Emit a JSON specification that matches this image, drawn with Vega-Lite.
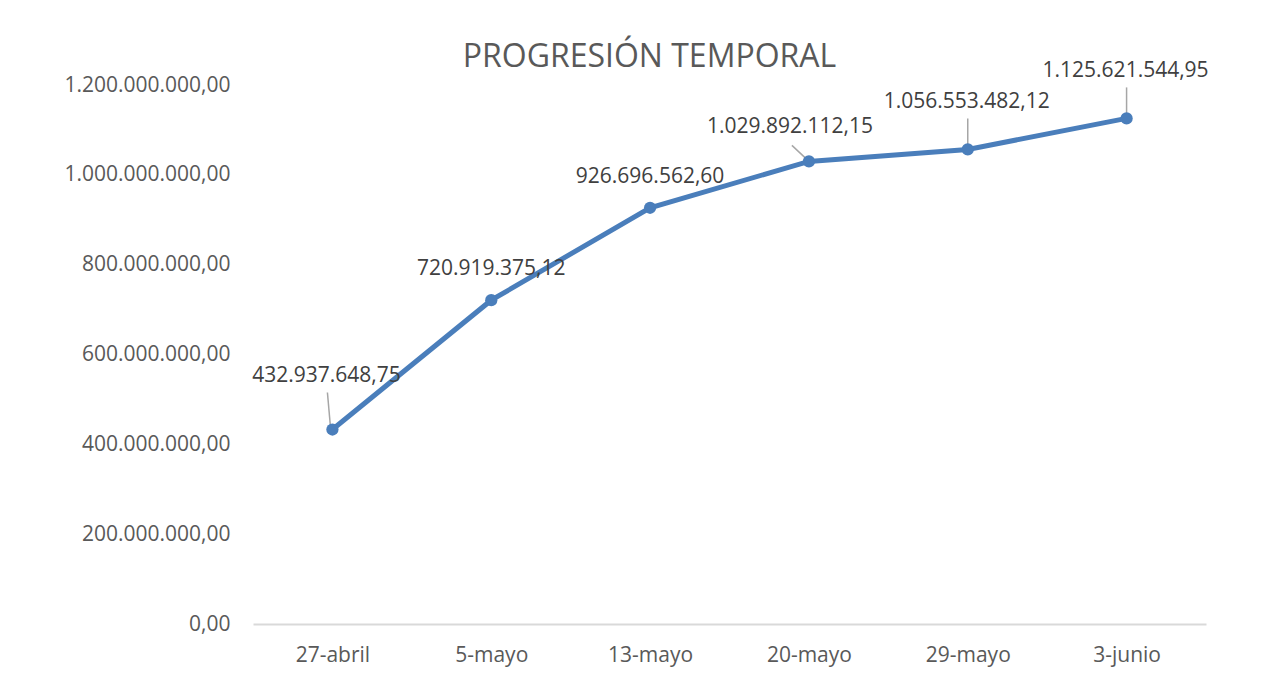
{
  "$schema": "https://vega.github.io/schema/vega-lite/v6.json",
  "width": 953,
  "height": 539,
  "autosize": {"type": "none"},
  "padding": {"left": 253, "top": 85, "right": 69, "bottom": 55},
  "background": "white",
  "title": {
    "text": "PROGRESIÓN TEMPORAL",
    "font": "Open Sans",
    "fontSize": 32,
    "fontWeight": "normal",
    "color": "#595959",
    "anchor": "middle",
    "frame": "group",
    "baseline": "alphabetic",
    "offset": -39,
    "dx": -80
  },
  "data": {
    "values": [
      {"fecha": "27-abril", "valor": 432937648.75},
      {"fecha": "5-mayo", "valor": 720919375.12},
      {"fecha": "13-mayo", "valor": 926696562.60},
      {"fecha": "20-mayo", "valor": 1029892112.15},
      {"fecha": "29-mayo", "valor": 1056553482.12},
      {"fecha": "3-junio", "valor": 1125621544.95}
    ]
  },
  "encoding": {
    "x": {
      "field": "fecha",
      "type": "nominal",
      "sort": ["27-abril", "5-mayo", "13-mayo", "20-mayo", "29-mayo", "3-junio"],
      "scale": {"type": "point", "padding": 0.5},
      "axis": {
        "title": null,
        "labelAngle": 0,
        "ticks": false,
        "domainColor": "#d9d9d9",
        "domainWidth": 2,
        "labelPadding": 20,
        "labelFont": "Open Sans",
        "labelFontSize": 21,
        "labelColor": "#595959",
        "grid": false
      }
    },
    "y": {
      "field": "valor",
      "type": "quantitative",
      "scale": {"domain": [0, 1200000000], "nice": false, "zero": true},
      "axis": {
        "title": null,
        "values": [0, 200000000, 400000000, 600000000, 800000000, 1000000000, 1200000000],
        "format": ",.2f",
        "domain": false,
        "ticks": false,
        "grid": false,
        "labelPadding": 23,
        "labelFont": "Open Sans",
        "labelFontSize": 21,
        "labelColor": "#595959"
      }
    }
  },
  "layer": [
    {"mark": {"type": "line", "color": "#4a7ebb", "strokeWidth": 5}},
    {
      "transform": [{"filter": "datum.fecha === '27-abril'"}],
      "mark": {"type": "rule", "color": "#a6a6a6", "strokeWidth": 1.5, "xOffset": -5, "yOffset": -37, "x2Offset": -2, "y2Offset": -3},
      "encoding": {"x2": {"field": "fecha"}, "y2": {"field": "valor"}}
    },
    {
      "transform": [{"filter": "datum.fecha === '20-mayo'"}],
      "mark": {"type": "rule", "color": "#a6a6a6", "strokeWidth": 1.5, "xOffset": -17, "yOffset": -16, "x2Offset": -1, "y2Offset": -1},
      "encoding": {"x2": {"field": "fecha"}, "y2": {"field": "valor"}}
    },
    {
      "transform": [{"filter": "datum.fecha === '29-mayo' || datum.fecha === '3-junio'"}],
      "mark": {"type": "rule", "color": "#a6a6a6", "strokeWidth": 1.5, "yOffset": -31, "y2Offset": -1},
      "encoding": {"y2": {"field": "valor"}}
    },
    {"mark": {"type": "point", "filled": true, "size": 150, "color": "#4a7ebb", "opacity": 1}},
    {
      "transform": [{"filter": "datum.fecha === '5-mayo' || datum.fecha === '13-mayo'"}],
      "mark": {"type": "text", "font": "Open Sans", "fontSize": 21, "color": "#404040", "baseline": "middle", "align": "center", "dy": -31},
      "encoding": {"text": {"field": "valor", "type": "quantitative", "format": ",.2f"}}
    },
    {
      "transform": [{"filter": "datum.fecha === '27-abril'"}],
      "mark": {"type": "text", "font": "Open Sans", "fontSize": 21, "color": "#404040", "baseline": "middle", "align": "center", "dx": -6, "dy": -54},
      "encoding": {"text": {"field": "valor", "type": "quantitative", "format": ",.2f"}}
    },
    {
      "transform": [{"filter": "datum.fecha === '20-mayo'"}],
      "mark": {"type": "text", "font": "Open Sans", "fontSize": 21, "color": "#404040", "baseline": "middle", "align": "center", "dx": -19, "dy": -34},
      "encoding": {"text": {"field": "valor", "type": "quantitative", "format": ",.2f"}}
    },
    {
      "transform": [{"filter": "datum.fecha === '29-mayo' || datum.fecha === '3-junio'"}],
      "mark": {"type": "text", "font": "Open Sans", "fontSize": 21, "color": "#404040", "baseline": "middle", "align": "center", "dx": -1, "dy": -47},
      "encoding": {"text": {"field": "valor", "type": "quantitative", "format": ",.2f"}}
    }
  ],
  "config": {
    "view": {"stroke": null},
    "locale": {"number": {"decimal": ",", "thousands": ".", "grouping": [3], "currency": ["", ""]}}
  }
}
